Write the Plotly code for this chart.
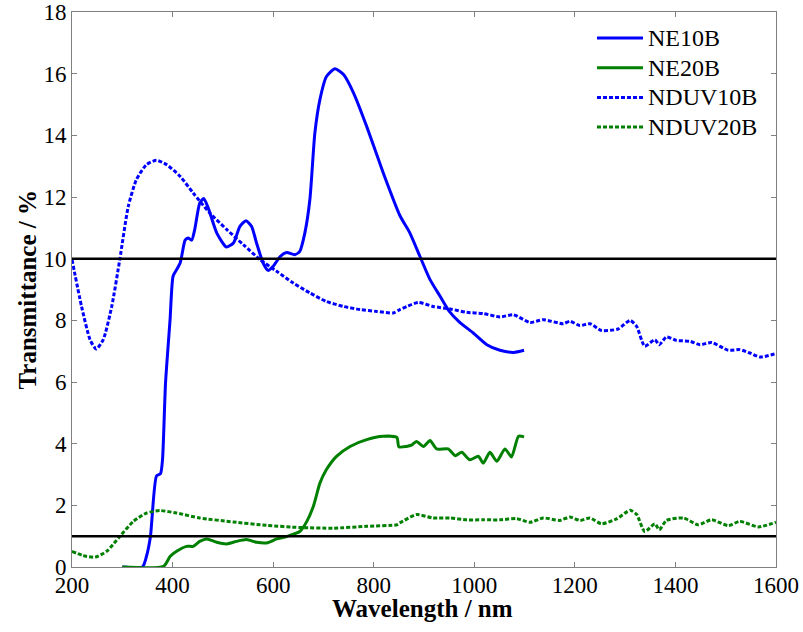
import plotly.graph_objects as go

# ---- data ----
ne10b_x = [300, 340, 348, 356, 368, 376, 380, 386, 395, 401, 408, 415, 418, 425, 431, 438, 444, 454, 462, 471,
           488, 507, 521, 534, 546, 557, 567, 580, 590, 600, 614, 627, 643, 653, 663, 673, 683, 693, 706, 723,
           740, 760, 786, 819, 852, 872, 892, 912, 932, 950, 970, 998, 1025, 1051, 1078, 1099]
ne10b_y = [0, 0, 0.34, 0.99, 2.95, 3.03, 3.48, 5.97, 8.02, 9.43, 9.64, 9.86, 10.07, 10.6, 10.67, 10.6, 10.94, 11.8, 11.95, 11.64,
           10.83, 10.38, 10.51, 11.05, 11.23, 11.05, 10.51, 9.86, 9.62, 9.75, 10.07, 10.2, 10.13, 10.24, 10.83, 11.91, 14.08, 15.16, 15.91, 16.16,
           15.97, 15.37, 14.29, 12.78, 11.4, 10.83, 10.07, 9.32, 8.78, 8.3, 7.95, 7.59, 7.21, 7.03, 6.96, 7.03]

ne20b_x = [300, 382, 395, 408, 428, 441, 454, 468, 488, 508, 527, 547, 567, 587, 607, 627, 653, 667, 680, 693,
           706, 726, 753, 786, 819, 846, 850, 865, 875, 885, 899, 912, 925, 948, 962, 975, 991, 1008, 1018, 1031,
           1045, 1061, 1074, 1088, 1099]
ne20b_y = [0, 0.02, 0.34, 0.51, 0.67, 0.67, 0.83, 0.91, 0.8, 0.75, 0.83, 0.89, 0.8, 0.78, 0.91, 0.99, 1.15, 1.48, 1.97, 2.72,
           3.16, 3.59, 3.91, 4.13, 4.24, 4.2, 3.9, 3.91, 3.95, 4.07, 3.91, 4.1, 3.83, 3.83, 3.61, 3.72, 3.48, 3.59, 3.37, 3.72,
           3.43, 3.83, 3.57, 4.24, 4.22]

nduv10b_x = [200, 219, 236, 248, 262, 279, 295, 312, 328, 348, 368, 388, 415, 441, 474, 508, 541, 574, 607, 640,
             673, 706, 740, 773, 806, 839, 852, 866, 889, 918, 952, 985, 1018, 1051, 1078, 1111, 1137, 1177, 1190, 1210,
             1230, 1253, 1286, 1310, 1323, 1339, 1359, 1368, 1382, 1402, 1429, 1449, 1472, 1505, 1528, 1548, 1568, 1600]
nduv10b_y = [9.97, 8.45, 7.37, 7.07, 7.37, 8.45, 9.97, 11.7, 12.56, 13.05, 13.19, 13.05, 12.67, 12.13, 11.48, 10.94, 10.45, 9.97, 9.59, 9.21,
             8.89, 8.61, 8.45, 8.35, 8.29, 8.24, 8.35, 8.45, 8.58, 8.45, 8.37, 8.26, 8.22, 8.11, 8.18, 7.93, 8.02, 7.89, 7.97, 7.83,
             7.89, 7.67, 7.72, 8.0, 7.8, 7.16, 7.37, 7.21, 7.46, 7.35, 7.32, 7.21, 7.28, 7.03, 7.05, 6.94, 6.81, 6.92]

nduv20b_x = [200, 222, 246, 269, 295, 322, 348, 375, 408, 454, 521, 587, 653, 720, 786, 846, 852, 885, 918, 952,
             985, 1018, 1051, 1084, 1111, 1137, 1170, 1190, 1210, 1230, 1253, 1283, 1310, 1323, 1339, 1359, 1368, 1382, 1416, 1445,
             1472, 1505, 1528, 1565, 1600]
nduv20b_y = [0.51, 0.37, 0.32, 0.51, 0.99, 1.48, 1.75, 1.83, 1.75, 1.59, 1.46, 1.35, 1.28, 1.26, 1.32, 1.37, 1.43, 1.7, 1.59, 1.59,
             1.53, 1.53, 1.53, 1.57, 1.45, 1.59, 1.51, 1.62, 1.51, 1.59, 1.4, 1.56, 1.84, 1.7, 1.15, 1.4, 1.21, 1.51, 1.59, 1.37,
             1.53, 1.34, 1.48, 1.3, 1.45]

series_names = ["NE10B", "NE20B", "NDUV10B", "NDUV20B"]
ref_levels = [10, 1]
x_range = [200, 1600]
y_range = [0, 18]
x_title = "Wavelength / nm"
y_title = "Transmittance / %"

BLUE = "#0000FF"
GREEN = "#008000"
DOT = "4px,2px"
FONT = "Liberation Serif"

series = [
    (ne10b_x, ne10b_y, BLUE, "solid"),
    (ne20b_x, ne20b_y, GREEN, "solid"),
    (nduv10b_x, nduv10b_y, BLUE, DOT),
    (nduv20b_x, nduv20b_y, GREEN, DOT),
]

fig = go.Figure()
for name, (xs, ys, col, dash) in zip(series_names, series):
    fig.add_trace(go.Scatter(x=xs, y=ys, mode="lines", name=name, showlegend=False,
                             line=dict(color=col, width=3, dash=dash, shape="spline", smoothing=0.6)))

for lv in ref_levels:
    fig.add_shape(type="line", xref="paper", x0=0, x1=1, yref="y", y0=lv, y1=lv,
                  line=dict(color="black", width=2.5))

# legend (drawn in the top-right corner, in paper coordinates)
plot_w, plot_h = 704.0, 555.0
leg_x0 = (597 - 72) / plot_w
leg_x1 = (643 - 72) / plot_w
leg_tx = (646 - 72) / plot_w
for i, (name, (_, _, col, dash)) in enumerate(zip(series_names, series)):
    yy = 1 - (38 + 29.7 * i - 12) / plot_h
    fig.add_shape(type="line", xref="paper", yref="paper", x0=leg_x0, x1=leg_x1, y0=yy, y1=yy,
                  line=dict(color=col, width=3, dash=dash))
    fig.add_annotation(xref="paper", yref="paper", x=leg_tx, y=yy, text=name, showarrow=False,
                       xanchor="left", yanchor="middle", font=dict(family=FONT, size=24, color="black"))

# axis titles
fig.add_annotation(xref="paper", yref="paper", x=(422 - 72) / plot_w, y=(567 - 608) / plot_h,
                   text="<b>%s</b>" % x_title, showarrow=False, xanchor="center", yanchor="middle",
                   font=dict(family=FONT, size=25, color="black"))
fig.add_annotation(xref="paper", yref="paper", x=(27 - 72) / plot_w, y=0.5, textangle=-90,
                   text="<b>%s</b>" % y_title, showarrow=False, xanchor="center", yanchor="middle",
                   font=dict(family=FONT, size=25, color="black"))

axis_common = dict(showgrid=False, zeroline=False, showline=True, linecolor="#808080", linewidth=1,
                   mirror="ticks", ticks="inside", ticklen=5, tickcolor="#808080", automargin=False,
                   ticklabeloverflow="allow",
                   tickfont=dict(family=FONT, size=23, color="black"))

fig.update_xaxes(range=x_range, dtick=200, tick0=200, ticklabelstandoff=-3, **axis_common)
fig.update_yaxes(range=y_range, dtick=2, tick0=0, **axis_common)

fig.update_layout(
    width=803, height=632,
    margin=dict(l=72, r=27, t=12, b=65),
    plot_bgcolor="white", paper_bgcolor="white",
    font=dict(family=FONT, size=23, color="black"),
    showlegend=False,
)

fig.write_html("out.html", config={"displayModeBar": False},
               post_script="document.body.style.margin='0';")
